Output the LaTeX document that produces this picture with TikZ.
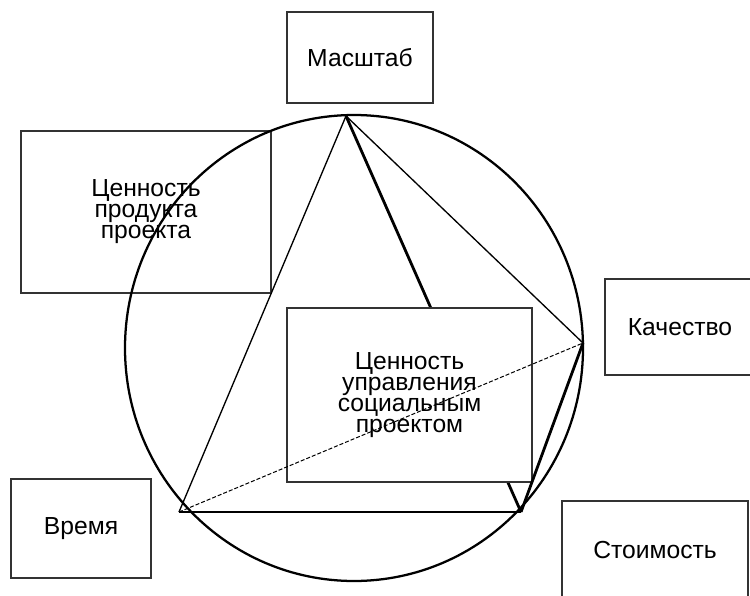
\documentclass[tikz,border=0pt]{standalone}
\usepackage{fontspec}
\setmainfont{Liberation Sans}
\usetikzlibrary{positioning,shapes.geometric}

\begin{document}
\begin{tikzpicture}[
  x=0.75pt, y=-0.75pt,
  lblbox/.style={draw=black!80, line width=0.8pt, align=center, inner sep=0pt,
                 font=\fontsize{18.5}{15.8}\selectfont},
  ring/.style={draw=black, line width=1.7pt},
  thinln/.style={draw=black, line width=1pt},
  thickln/.style={draw=black, line width=2.1pt},
  dashln/.style={draw=black, line width=0.75pt, dash pattern=on 3pt off 1.5pt}
]
  \useasboundingbox (0,0) rectangle (750,596);

  % boxes round the circle
  \node[lblbox, minimum width=146*0.75pt, minimum height=91*0.75pt] (scale) at (360,57.5)
    {Масштаб};
  \node[lblbox, minimum width=250*0.75pt, minimum height=162*0.75pt] (product) at (146,212)
    {Ценность\\продукта\\проекта};
  \node[lblbox, minimum width=150*0.75pt, minimum height=96*0.75pt] (quality) at (680,327)
    {Качество};
  \node[lblbox, minimum width=140*0.75pt, minimum height=99*0.75pt] (time) at (81,528.5)
    {Время};
  \node[lblbox, minimum width=186*0.75pt, minimum height=98*0.75pt] (cost) at (655,550)
    {Стоимость};

  % circle and vertices
  \node[ring, ellipse, minimum width=458*0.75pt, minimum height=466*0.75pt,
        inner sep=0pt] (circ) at (354,348) {};
  \coordinate (top) at (346,116);
  \coordinate (right) at (583,343);
  \coordinate (left) at (179,512);
  \coordinate (low) at (521,512);

  \draw[thinln] (top) -- (left);
  \draw[thinln] (top) -- (right);
  \draw[thickln] (top) -- (low);

  \node[lblbox, fill=white, minimum width=245*0.75pt, minimum height=174*0.75pt] (mgmt)
    at (409.5,395) {Ценность\\управления\\социальным\\проектом};

  \draw[thickln] (right) -- (low);
  \draw[thickln] (left) -- (low);
  \draw[dashln] (left) -- (right);
\end{tikzpicture}
\end{document}
